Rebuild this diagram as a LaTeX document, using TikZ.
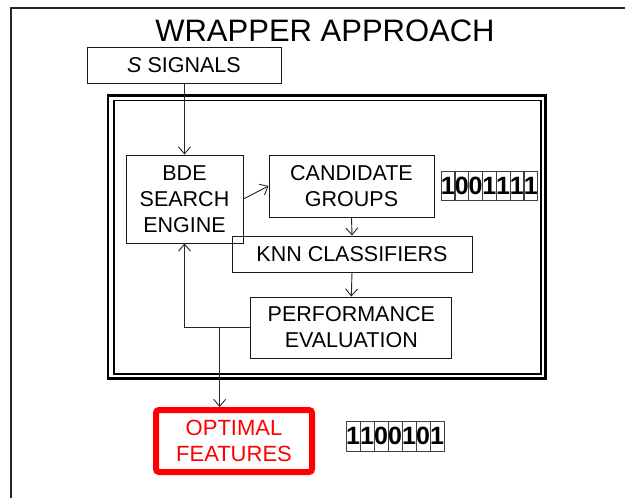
\documentclass[tikz,border=0pt]{standalone}
\usepackage{fontspec}
\setmainfont{Liberation Sans}
\usetikzlibrary{arrows.meta}
\begin{document}
\begin{tikzpicture}[x=1pt,y=-1pt,
  box/.style={draw=black!90, line width=0.9pt, inner sep=0pt, align=center,
    font=\fontsize{21.5}{26}\selectfont},
  link/.style={draw=black!85, line width=0.9pt},
  arr/.style={link, -{Straight Barb[length=7pt,width=12pt,line width=0.9pt]}},
  bit/.style={draw=black!75, line width=0.7pt, minimum width=13.9pt,
    minimum height=28.5pt, inner sep=0pt,
    font=\fontsize{25}{25}\selectfont\bfseries}
]
\useasboundingbox (0,0) rectangle (625,498);

% page frame (top and left edges)
\draw[black!85, line width=2pt] (10.5,498) -- (10.5,7.5) -- (625,7.5);

% title
\node[font=\fontsize{31}{31}\selectfont, inner sep=0pt] (title) at (325,31) {WRAPPER APPROACH};

% input signals
\node[box, minimum width=194pt, minimum height=36pt] (sig) at (184,65) {\textit{S} SIGNALS};

% double-lined wrapper frame
\draw[black, line width=2.8pt] (108,95.3) rectangle (545.5,378.8);
\draw[black, line width=1.6pt] (113.7,100.3) rectangle (540.7,374);

% blocks inside the wrapper
\node[box, minimum width=117pt, minimum height=88pt] (bde) at (184.5,199) {BDE\\SEARCH\\ENGINE};
\node[box, minimum width=165pt, minimum height=62pt] (cand) at (351.5,186) {CANDIDATE\\GROUPS};
\node[box, minimum width=240pt, minimum height=36pt] (knn) at (352,254) {KNN CLASSIFIERS};
\node[box, minimum width=201pt, minimum height=61pt] (perf) at (351.3,327.5) {PERFORMANCE\\EVALUATION};

% candidate bit string
\foreach \d [count=\i] in {1,0,0,1,1,1,1}
  \node[bit] (ca\i) at (441+13.8*\i-6.9,186) {\d};

% result
\node[draw=red, line width=6pt, rounded corners=3pt, minimum width=156pt,
  minimum height=62pt, inner sep=0pt, text=red, align=center,
  font=\fontsize{22}{26}\selectfont] (opt) at (234,441) {OPTIMAL\\FEATURES};

% selected bit string
\foreach \d [count=\i] in {1,1,0,0,1,0,1}
  \node[bit, minimum width=14pt, minimum height=30pt] (op\i) at (346+14*\i-7,436) {\d};

% connectors
\draw[arr] (bde.north |- sig.south) -- (bde.north);
\draw[arr] (bde.east) -- (cand.west);
\draw[arr] (cand.south) -- (knn.north);
\draw[arr] (knn.south) -- (perf.north);
\draw[arr] (perf.west) -| (bde.south);
\path (perf.west) ++(-30.7,0) coordinate (tap);
\draw[arr] (tap) -- (tap |- opt.north);
\end{tikzpicture}
\end{document}
